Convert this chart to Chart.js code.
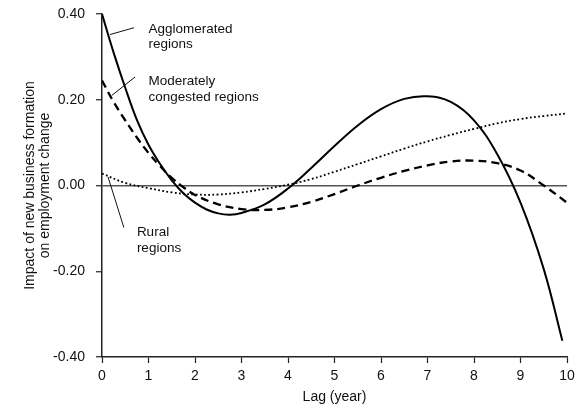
<!DOCTYPE html>
<html>
<head>
<meta charset="utf-8">
<script src="https://cdn.jsdelivr.net/npm/chart.js@4.4.1/dist/chart.umd.min.js"></script>
<style>
  html, body { margin: 0; padding: 0; background: #fff; }
  #wrap { width: 577px; height: 410px; position: relative; }
</style>
</head>
<body>
<div id="wrap"><canvas id="c" width="577" height="410"></canvas></div>
<script>
// ---- data ----
const agglomeratedLags = [0,0.25,0.5,0.75,1,1.25,1.5,1.75,2,2.25,2.5,2.75,3,3.5,4,4.5,5,5.5,6,6.5,7,7.5,8,8.5,9,9.5,9.9];
const agglomeratedValues = [0.40,0.31,0.228,0.153,0.095,0.05,0.012,-0.018,-0.04,-0.056,-0.065,-0.068,-0.064,-0.044,-0.007,0.041,0.092,0.14,0.178,0.202,0.208,0.195,0.152,0.073,-0.04,-0.195,-0.362];

const moderateLags = [0,0.25,0.5,0.75,1,1.25,1.5,1.75,2,2.5,3,3.5,4,4.5,5,5.5,6,6.5,7,7.5,8,8.5,9,9.5,10];
const moderateValues = [0.245,0.195,0.152,0.112,0.076,0.045,0.018,-0.004,-0.022,-0.044,-0.055,-0.057,-0.051,-0.038,-0.02,0.0,0.018,0.034,0.047,0.056,0.058,0.052,0.035,0.0,-0.04];

const ruralLags = [0,0.5,1,1.5,2,2.5,3,3.5,4,4.5,5,5.5,6,6.5,7,7.5,8,8.5,9,9.5,10];
const ruralValues = [0.028,0.006,-0.006,-0.016,-0.021,-0.021,-0.016,-0.008,0.002,0.015,0.032,0.05,0.068,0.086,0.103,0.118,0.132,0.145,0.155,0.162,0.168];

const xTicks = [0,1,2,3,4,5,6,7,8,9,10];
const yTicks = [-0.40,-0.20,0.00,0.20,0.40];

const seriesNames = ["Agglomerated regions", "Moderately congested regions", "Rural regions"];

// annotation labels: text lines, text anchor (data coords), leader line (data coords)
const annotations = [
  { lines: ["Agglomerated", "regions"], at: [1.0, 0.365], from: [0.17, 0.352], to: [0.69, 0.368] },
  { lines: ["Moderately", "congested regions"], at: [1.0, 0.243], from: [0.21, 0.21], to: [0.71, 0.253] },
  { lines: ["Rural", "regions"], at: [0.75, -0.11], from: [0.13, 0.02], to: [0.47, -0.098] }
];

function pts(xs, ys) { return xs.map((x, i) => ({ x: x, y: ys[i] })); }

const FONT = "'Liberation Sans', Arial, Helvetica, sans-serif";

const annotationPlugin = {
  id: 'annot',
  afterDatasetsDraw(chart) {
    const ctx = chart.ctx;
    const xs = chart.scales.x, ys = chart.scales.y;
    ctx.save();
    ctx.fillStyle = '#111';
    ctx.strokeStyle = '#111';
    ctx.lineWidth = 1;
    ctx.font = '13.5px ' + FONT;
    ctx.textBaseline = 'middle';
    ctx.textAlign = 'left';
    annotations.forEach(a => {
      ctx.beginPath();
      ctx.moveTo(xs.getPixelForValue(a.from[0]), ys.getPixelForValue(a.from[1]));
      ctx.lineTo(xs.getPixelForValue(a.to[0]), ys.getPixelForValue(a.to[1]));
      ctx.stroke();
      const tx = xs.getPixelForValue(a.at[0]);
      const ty = ys.getPixelForValue(a.at[1]);
      a.lines.forEach((l, i) => ctx.fillText(l, tx, ty + i * 15.5));
    });
    ctx.restore();
  }
};

new Chart(document.getElementById('c'), {
  type: 'line',
  data: {
    datasets: [
      { label: seriesNames[0], data: pts(agglomeratedLags, agglomeratedValues), borderColor: '#000', borderWidth: 2, pointRadius: 0, tension: 0.4, fill: false },
      { label: seriesNames[1], data: pts(moderateLags, moderateValues), borderColor: '#000', borderWidth: 2.3, borderDash: [8, 5], pointRadius: 0, tension: 0.4, fill: false },
      { label: seriesNames[2], data: pts(ruralLags, ruralValues), borderColor: '#000', borderWidth: 1.8, borderDash: [1.8, 2.4], pointRadius: 0, tension: 0.4, fill: false }
    ]
  },
  options: {
    responsive: false,
    animation: false,
    devicePixelRatio: 1,
    layout: { padding: { top: 14, right: 10, left: 0, bottom: 0 } },
    plugins: { legend: { display: false }, tooltip: { enabled: false } },
    scales: {
      x: {
        type: 'linear', min: 0, max: 10,
        afterBuildTicks(s) { s.ticks = xTicks.map(v => ({ value: v })); },
        afterFit(s) { s.height = 53; s.paddingRight = 0; s.paddingLeft = 0; },
        ticks: { color: '#111', font: { family: FONT, size: 14 }, padding: 5, maxRotation: 0 },
        grid: { drawOnChartArea: false, drawTicks: true, tickLength: 6, tickColor: '#222', tickWidth: 1.2 },
        border: { color: '#222', width: 1.5 },
        title: { display: true, text: 'Lag (year)', color: '#111', font: { family: FONT, size: 14 }, padding: { top: 9 } }
      },
      y: {
        type: 'linear', min: -0.4, max: 0.4,
        afterBuildTicks(s) { s.ticks = yTicks.map(v => ({ value: v })); },
        afterFit(s) { s.width = 102; s.paddingTop = 0; s.paddingBottom = 0; },
        ticks: { color: '#111', font: { family: FONT, size: 14 }, padding: 11, callback: v => Number(v).toFixed(2) },
        grid: {
          drawOnChartArea: true, drawTicks: true, tickLength: 6,
          color: c => (c.tick && Math.abs(c.tick.value) < 1e-9) ? '#555' : 'rgba(0,0,0,0)',
          lineWidth: 1.5, tickColor: '#222', tickWidth: 1.2
        },
        border: { color: '#222', width: 1.5 },
        title: { display: true, text: ['Impact of new business formation', 'on employment change'], color: '#111', font: { family: FONT, size: 14, lineHeight: 1.1 }, padding: { top: 22, bottom: 4 } }
      }
    }
  },
  plugins: [annotationPlugin]
});
</script>
</body>
</html>
